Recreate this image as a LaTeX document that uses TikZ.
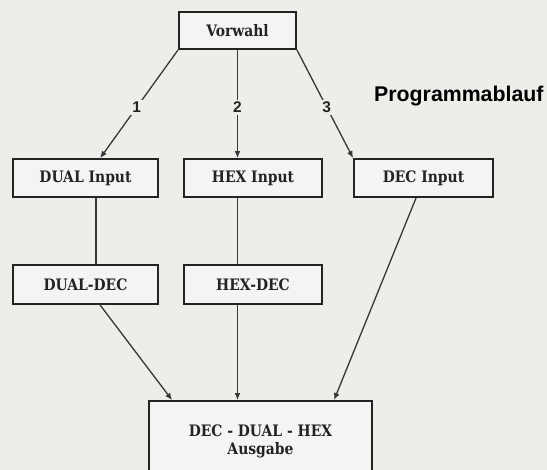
\documentclass[tikz,border=0pt]{standalone}
\usepackage{fontspec}
\usetikzlibrary{arrows.meta,calc}
\newfontfamily\boxfont{DejaVu Serif}[FakeStretch=0.88]
\newfontfamily\labfont{Liberation Sans}
\definecolor{bgc}{RGB}{238,237,234}
\definecolor{boxfill}{RGB}{244,244,242}
\definecolor{ink}{RGB}{35,35,35}
\definecolor{linec}{RGB}{55,55,55}
\tikzset{
  box/.style={draw=ink, line width=1.9pt, fill=boxfill, inner sep=0pt, align=center,
    font=\boxfont\bfseries\fontsize{15.8}{18}\selectfont, text=ink},
  conn/.style={draw=linec, line width=1.3pt, -{Latex[length=7pt,width=6pt]}},
  plain/.style={draw=linec, line width=1.3pt},
  numlab/.style={fill=bgc, inner sep=2pt, font=\labfont\bfseries\fontsize{15.5}{17}\selectfont, text=ink},
  title/.style={font=\labfont\bfseries\fontsize{21.3}{25}\selectfont, text=black, anchor=west, inner sep=0pt}
}
\begin{document}
\begin{tikzpicture}[x=1pt,y=-1pt]
\useasboundingbox (0,0) rectangle (547,470);
\fill[bgc] (0,0) rectangle (547,470);

\node[box, minimum width=117pt, minimum height=37pt] (vorwahl) at (237.5,30.5) {Vorwahl};
\node[box, minimum width=145pt, minimum height=38pt] (dualin) at (85.5,178) {DUAL Input};
\node[box, minimum width=138pt, minimum height=38pt] (hexin) at (253,178) {HEX Input};
\node[box, minimum width=139pt, minimum height=38pt] (decin) at (423.5,178) {DEC Input};
\node[box, minimum width=145pt, minimum height=39pt] (dualdec) at (85.5,284.5) {DUAL-DEC};
\node[box, minimum width=138pt, minimum height=39pt] (hexdec) at (253,284.5) {HEX-DEC};
\node[box, minimum width=223pt, minimum height=80pt] (ausgabe) at (260.5,441) {DEC - DUAL - HEX\\Ausgabe};

\node[title] (titel) at (374,96) {Programmablauf};

% from Vorwahl
\draw[conn] (vorwahl.south west) -- node[numlab, pos=0.53] (n1) {1} ($(dualin.north west)!0.6!(dualin.north east)$);
\draw[conn] (vorwahl.south) -- node[numlab, pos=0.53] (n2) {2} (vorwahl.south |- hexin.north);
\draw[conn] (vorwahl.south east) -- node[numlab, pos=0.53] (n3) {3} (decin.north west);

% input to conversion
\draw[plain] ($(dualin.south west)+(84,0)$) -- ($(dualdec.north west)+(84,0)$);
\draw[plain] (vorwahl.south |- hexin.south) -- (vorwahl.south |- hexdec.north);

% to output
\draw[conn] ($(dualdec.south west)+(88,0)$) -- ($(ausgabe.north west)+(24,0)$);
\draw[conn] (vorwahl.south |- hexdec.south) -- (vorwahl.south |- ausgabe.north);
\draw[conn] ($(decin.south west)+(63,0)$) -- ($(ausgabe.north west)+(186,0)$);
\end{tikzpicture}
\end{document}
